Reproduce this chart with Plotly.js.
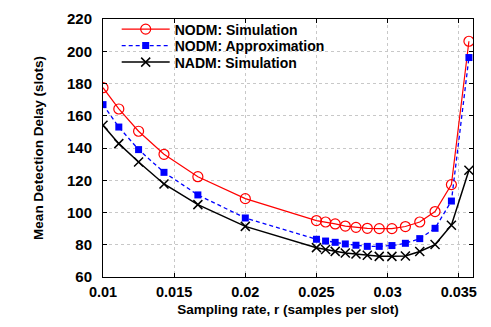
<!DOCTYPE html>
<html><head><meta charset="utf-8">
<script src="https://cdn.plot.ly/plotly-3.0.1.min.js"></script>
<style>html,body{margin:0;padding:0;background:#fff;}</style>
</head><body><div id="chart" style="width:491px;height:327px;"></div>
<script>
var slotsPerSample = [100, 90, 80, 70, 60, 50, 40, 39, 38, 37, 36, 35, 34, 33, 32, 31, 30, 29, 28];
var samplingRate = slotsPerSample.map(function(n){ return 1 / n; });
var nodmSim = [177.4, 164.2, 150.4, 136.1, 122.2, 108.6, 95.0, 94.1, 92.9, 91.6, 90.8, 90.2, 90.0, 90.0, 91.3, 94.1, 100.6, 117.3, 206.2];
var nodmApprox = [166.9, 153.0, 139.0, 124.9, 110.9, 96.6, 83.4, 82.3, 81.5, 80.5, 79.7, 79.0, 79.0, 79.5, 80.9, 83.8, 90.2, 107.1, 196.1];
var nadmSim = [154.1, 142.7, 131.3, 117.7, 104.9, 91.4, 78.2, 77.0, 75.9, 74.9, 74.3, 73.5, 72.8, 72.8, 73.0, 75.8, 80.1, 92.1, 126.2];
var seriesNames = ["NODM: Simulation", "NODM: Approximation", "NADM: Simulation"];
var xTicks = [0.01, 0.015, 0.02, 0.025, 0.03, 0.035];
var xTickText = ["0.01", "0.015", "0.02", "0.025", "0.03", "0.035"];
var yTicks = [60, 80, 100, 120, 140, 160, 180, 200, 220];

var fontFam = "Liberation Sans, Arial, Helvetica, sans-serif";
var traces = [
  {x: samplingRate, y: nodmSim, name: seriesNames[0], mode: "lines+markers", legend: "legend",
   line: {color: "#ff0000", width: 1.2},
   marker: {symbol: "circle-open", size: 10, color: "#ff0000", line: {width: 1.2, color: "#ff0000"}}},
  {x: samplingRate, y: nodmApprox, name: seriesNames[1], mode: "lines+markers", legend: "legend2",
   line: {color: "#0000ff", width: 1.3, dash: "4px,3px"},
   marker: {symbol: "square", size: 7, color: "#0000ff"}},
  {x: samplingRate, y: nadmSim, name: seriesNames[2], mode: "lines+markers", legend: "legend3",
   line: {color: "#000000", width: 1.5},
   marker: {symbol: "x-thin-open", size: 9, color: "#000000", line: {width: 1.5, color: "#000000"}}}
];
var axisCommon = {
  showline: true, linecolor: "#000", linewidth: 1, mirror: "allticks",
  ticks: "inside", ticklen: 4, tickcolor: "#000",
  showgrid: true, gridcolor: "#c8c8c8", griddash: "dot", gridwidth: 1,
  zeroline: false
};
function legendAt(yv) {
  return {x: 0.037, y: yv, xanchor: "left", yanchor: "middle", itemwidth: 48,
          bgcolor: "rgba(255,255,255,0)", borderwidth: 0,
          font: {family: fontFam, size: 14, color: "#000", weight: "bold"}};
}
var layout = {
  width: 491, height: 327,
  margin: {l: 103, r: 18, t: 19, b: 50},
  paper_bgcolor: "#fff", plot_bgcolor: "#fff",
  showlegend: true,
  legend: legendAt(0.9593),
  legend2: legendAt(0.8953),
  legend3: legendAt(0.8314),
  shapes: [{type: "rect", xref: "paper", yref: "paper", layer: "between",
            x0: 0.019, x1: 0.68, y0: 0.80, y1: 0.985,
            fillcolor: "#fff", line: {width: 0}}],
  xaxis: Object.assign({}, axisCommon, {
    range: [0.01, 0.036], tickvals: xTicks, ticktext: xTickText, ticklabelstandoff: 2,
    tickfont: {family: fontFam, size: 14.5, color: "#000", weight: "bold"},
    title: {text: "Sampling rate, r (samples per slot)", standoff: 5,
            font: {family: fontFam, size: 13.5, color: "#000", weight: "bold"}}
  }),
  yaxis: Object.assign({}, axisCommon, {
    range: [60, 220], tickvals: yTicks, ticklabelstandoff: 7,
    tickfont: {family: fontFam, size: 15, color: "#000", weight: "bold"},
    title: {text: "Mean Detection Delay (slots)", standoff: 20,
            font: {family: fontFam, size: 13.5, color: "#000", weight: "bold"}}
  })
};
Plotly.newPlot("chart", traces, layout, {displayModeBar: false, staticPlot: true});
</script></body></html>
